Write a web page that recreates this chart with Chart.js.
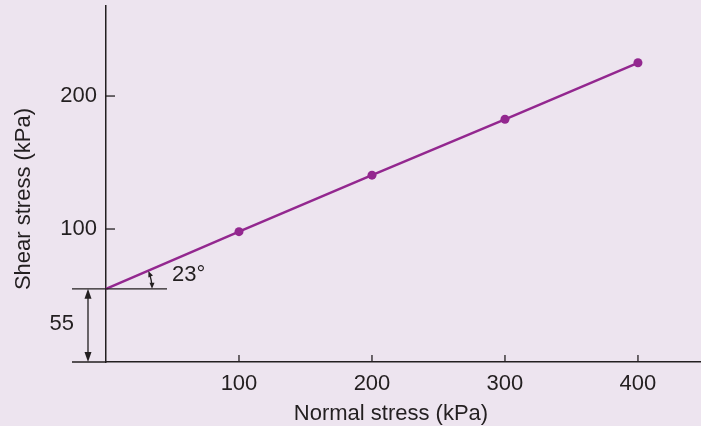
<!DOCTYPE html>
<html><head><meta charset="utf-8">
<script src="https://cdn.jsdelivr.net/npm/chart.js@4"></script>
<style>html,body{margin:0;padding:0;background:#ede4ef;overflow:hidden}canvas{display:block}</style>
</head><body><canvas id="c" width="701" height="426"></canvas>
<script>
const normalStress = [0, 100, 200, 300, 400];
const shearStress = [55, 98, 140.5, 182.5, 225];
const xTickLabels = [100, 200, 300, 400];
const yTickLabels = [100, 200];
const cohesion = 55;
const frictionAngle = 23;
const xTitle = 'Normal stress (kPa)';
const yTitle = 'Shear stress (kPa)';

const INK = '#231f20', PURPLE = '#93278f', BG = '#ede4ef';
const FONT = '"Liberation Sans", Arial, Helvetica, sans-serif';
const FS = 22;

function arrowHead(ctx, x, y, ang, len, half) {
  const bx = x - len * Math.cos(ang), by = y - len * Math.sin(ang);
  ctx.beginPath();
  ctx.moveTo(x, y);
  ctx.lineTo(bx + half * Math.sin(ang), by - half * Math.cos(ang));
  ctx.lineTo(bx - half * Math.sin(ang), by + half * Math.cos(ang));
  ctx.closePath();
  ctx.fill();
}

function noPad(s) { s.paddingTop = 0; s.paddingBottom = 0; s.paddingLeft = 0; s.paddingRight = 0; }

const deco = {
  id: 'deco',
  beforeDraw(chart) {
    const c = chart.ctx; c.save(); c.fillStyle = BG; c.fillRect(0, 0, chart.width, chart.height); c.restore();
  },
  afterDraw(chart) {
    const c = chart.ctx, xs = chart.scales.x, ys = chart.scales.y;
    c.save();
    c.strokeStyle = INK; c.fillStyle = INK; c.lineWidth = 1.3;
    const x0 = xs.getPixelForValue(0), y0 = ys.getPixelForValue(0);
    // inside tick marks
    xTickLabels.forEach(v => { const px = xs.getPixelForValue(v); c.beginPath(); c.moveTo(px, y0); c.lineTo(px, y0 - 7); c.stroke(); });
    yTickLabels.forEach(v => { const py = ys.getPixelForValue(v); c.beginPath(); c.moveTo(x0, py); c.lineTo(x0 + 9, py); c.stroke(); });
    // cohesion dimension
    const yc = ys.getPixelForValue(cohesion);
    c.beginPath();
    c.moveTo(x0 - 34, yc); c.lineTo(x0, yc);
    c.moveTo(x0 - 34, y0); c.lineTo(x0, y0);
    const xa = x0 - 18;
    c.moveTo(xa, yc + 6); c.lineTo(xa, y0 - 6);
    c.stroke();
    arrowHead(c, xa, yc, -Math.PI / 2, 10, 3.5);
    arrowHead(c, xa, y0, Math.PI / 2, 10, 3.5);
    c.font = FS + 'px ' + FONT; c.textAlign = 'right'; c.textBaseline = 'middle';
    c.fillText(String(cohesion), x0 - 32, (yc + y0) / 2 - 1);
    // friction angle
    const r = 46;
    c.beginPath(); c.moveTo(x0, yc); c.lineTo(x0 + 61, yc); c.stroke();
    const a = frictionAngle * Math.PI / 180;
    c.beginPath(); c.arc(x0, yc, r, -a + 0.1, -0.1); c.stroke();
    arrowHead(c, x0 + r, yc, Math.PI / 2, 6, 2.5);
    arrowHead(c, x0 + r * Math.cos(a), yc - r * Math.sin(a), -Math.PI / 2 - a, 6, 2.5);
    c.textAlign = 'left';
    c.fillText(frictionAngle + '°', x0 + 66, yc - 14);
    // axis titles
    c.textAlign = 'center'; c.textBaseline = 'alphabetic';
    c.fillText(xTitle, x0 + 285, 420);
    c.translate(30, y0 - 163); c.rotate(-Math.PI / 2);
    c.fillText(yTitle, 0, 0);
    c.restore();
  }
};

new Chart(document.getElementById('c'), {
  type: 'line',
  data: {
    datasets: [{
      data: normalStress.map((x, i) => ({ x, y: shearStress[i] })),
      borderColor: PURPLE, borderWidth: 2.5,
      pointRadius: normalStress.map(v => v === 0 ? 0 : 4.5),
      pointBackgroundColor: PURPLE, pointBorderWidth: 0, pointBorderColor: PURPLE,
      tension: 0, clip: false
    }]
  },
  options: {
    responsive: false, animation: false, devicePixelRatio: 1,
    layout: { autoPadding: false, padding: { top: 6, left: 0, right: 0, bottom: 0 } },
    plugins: { legend: { display: false }, tooltip: { enabled: false } },
    scales: {
      x: {
        type: 'linear', min: 0, max: 447.4,
        grid: { display: false, drawTicks: false, tickLength: 0 },
        border: { display: true, color: INK, width: 1.5 },
        afterFit: s => { s.height = 64; noPad(s); },
        ticks: {
          stepSize: 100, includeBounds: false, autoSkip: false, maxRotation: 0,
          font: { size: FS, family: FONT }, color: INK, padding: 9,
          callback: v => xTickLabels.includes(v) ? String(v) : ''
        }
      },
      y: {
        type: 'linear', min: 0, max: 267.7,
        grid: { display: false, drawTicks: false, tickLength: 0 },
        border: { display: true, color: INK, width: 1.5 },
        afterFit: s => { s.width = 106; noPad(s); },
        ticks: {
          stepSize: 100, includeBounds: false, autoSkip: false,
          font: { size: FS, family: FONT }, color: INK, padding: 9,
          callback: v => yTickLabels.includes(v) ? String(v) : ''
        }
      }
    }
  },
  plugins: [deco]
});
</script>
</body></html>
